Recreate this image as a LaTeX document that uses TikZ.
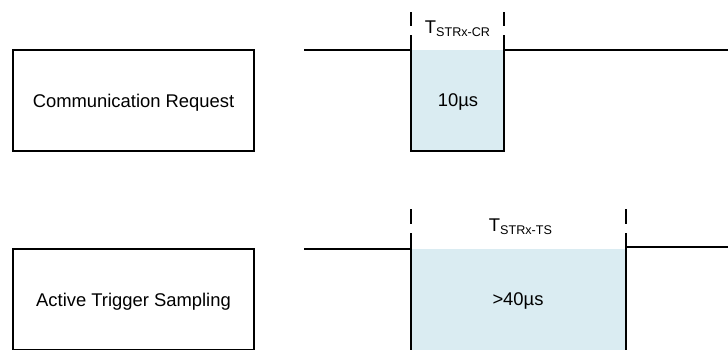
\documentclass[tikz,border=0pt]{standalone}
\usepackage{fontspec}
\setmainfont{Liberation Sans}
\definecolor{pulsefill}{HTML}{DAECF2}
\newcommand{\subtxt}[1]{\raisebox{-3.5pt}{\fontsize{12.6}{14}\selectfont #1}}
\begin{document}
\begin{tikzpicture}[x=1pt,y=-1pt,
  sig/.style={line width=1.5pt, line join=miter},
  tickline/.style={line width=1.5pt},
  boxstyle/.style={draw, line width=1.3pt, minimum width=241pt, minimum height=101pt,
    text height=13.2pt, text depth=0pt, inner sep=0pt, font=\fontsize{18.4}{22}\selectfont},
  lbl/.style={font=\fontsize{18.4}{22}\selectfont, inner sep=0pt, anchor=base}]
\useasboundingbox (0,0) rectangle (728,349);
\clip (0,0) rectangle (728,349);

% request and sampling boxes
\node[boxstyle] (cr) at (133.5,100.5) {Communication Request};
\node[boxstyle] (ts) at (133.5,299.5) {Active Trigger Sampling};

% communication request pulse
\coordinate (crA) at (411,50);
\coordinate (crB) at (504,151);
\fill[pulsefill] (crA) rectangle (crB);
\draw[sig] (304,50) -- (crA) |- (crB) -- (504,50) -- (728,50);
\draw[tickline] (411,12) -- (411,26) (411,35) -- (411,50);
\draw[tickline] (504,12) -- (504,26) (504,35) -- (504,50);
\node[lbl] (crT) at (457.5,33) {T\subtxt{STRx-CR}};
\node[lbl] (crV) at (458,106) {10µs};

% trigger sampling pulse
\coordinate (tsA) at (411,249);
\coordinate (tsB) at (626,352);
\fill[pulsefill] (tsA) rectangle (tsB);
\draw[sig] (304,249) -- (tsA) -- (411,352);
\draw[sig] (626,352) -- (626,247) -- (728,247);
\draw[tickline] (411,209) -- (411,224) (411,233) -- (411,249);
\draw[tickline] (626,209) -- (626,224) (626,233) -- (626,247);
\node[lbl] (tsT) at (520.5,231) {T\subtxt{STRx-TS}};
\node[lbl] (tsV) at (518,305) {>40µs};
\end{tikzpicture}
\end{document}
